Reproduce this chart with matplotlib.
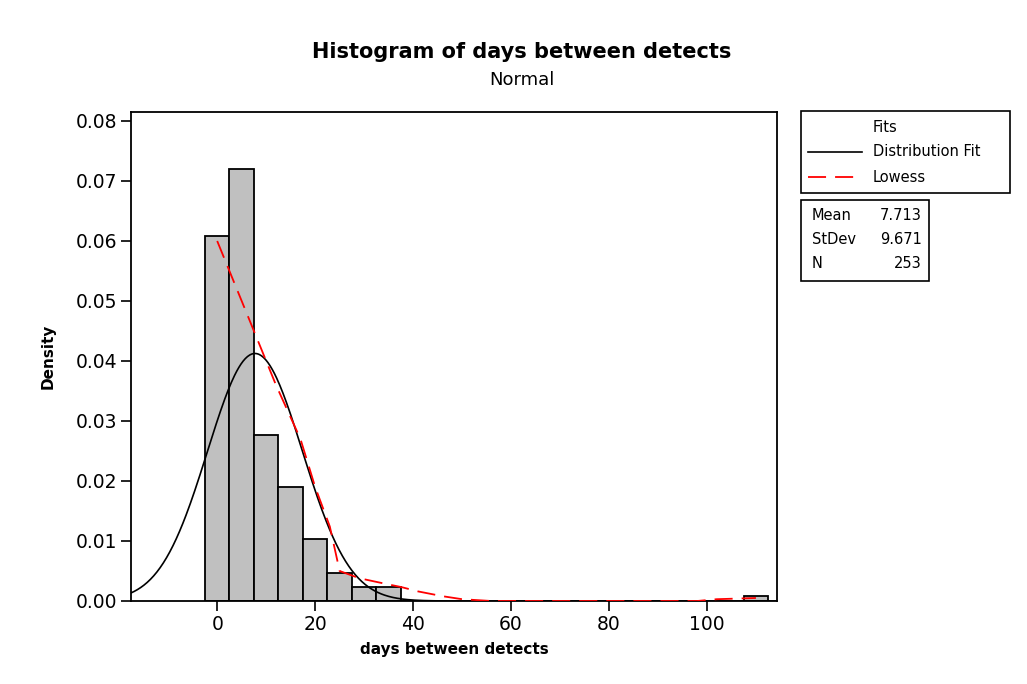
import numpy as np
import matplotlib
matplotlib.use("Agg")
import matplotlib.pyplot as plt
from matplotlib.patches import Rectangle
from matplotlib.lines import Line2D

# histogram data (bin centres, counts per bin of width 5)
bin_centers = [0, 5, 10, 15, 20, 25, 30, 35, 40, 110]
bin_counts = [77, 91, 35, 24, 13, 6, 3, 3, 0, 1]
bin_width = 5

# fit statistics
fit_mean = 7.713
fit_std = 9.671
n_obs = 253

# lowess curve
lowess_x = [0, 4, 8, 12, 17, 20, 23, 25, 29, 33, 37.7, 41, 46, 50, 56, 98, 102, 106, 110]
lowess_y = [0.060, 0.052, 0.044, 0.036, 0.027, 0.019, 0.0124, 0.0050, 0.0038, 0.0031,
            0.0023, 0.0016, 0.0008, 0.0003, 0.0, 0.0, 0.0003, 0.0004, 0.0005]

W, H = 1027, 684
fig = plt.figure(figsize=(W / 100, H / 100), dpi=100)
plt.rcParams['font.family'] = ['DejaVu Sans']

def fx(px):
    return px / W

def fy(py):
    return 1 - py / H

ax = fig.add_axes([fx(131), fy(601), fx(777) - fx(131), fy(112) - fy(601)])

density = np.array(bin_counts) / (n_obs * bin_width)
ax.bar(bin_centers, density, width=bin_width, color="#c0c0c0",
       edgecolor="black", linewidth=1.3, zorder=2)

xs = np.linspace(-17.6, 114.3, 600)
pdf = np.exp(-0.5 * ((xs - fit_mean) / fit_std) ** 2) / (fit_std * np.sqrt(2 * np.pi))
ax.plot(xs, pdf, color="black", linewidth=1.2, zorder=3)
ax.plot(lowess_x, lowess_y, color="red", linewidth=1.3, dashes=(10, 5), zorder=4)

ax.set_xlim(-17.6, 114.3)
ax.set_ylim(0, 0.0815)
ax.set_xticks([0, 20, 40, 60, 80, 100])
ax.set_yticks(np.arange(0, 0.081, 0.01))
ax.yaxis.set_major_formatter(matplotlib.ticker.FormatStrFormatter("%.2f"))
ax.tick_params(direction="out", length=7, width=1.2, labelsize=13.5, pad=3)
for s in ax.spines.values():
    s.set_linewidth(1.3)

ax.set_xlabel("days between detects", fontsize=11, fontweight="bold", labelpad=6)
ax.set_ylabel("Density", fontsize=11, fontweight="bold", labelpad=14)

fig.text(fx(522), fy(52), "Histogram of days between detects", ha="center", va="center",
         fontsize=15, fontweight="bold")
fig.text(fx(522), fy(80), "Normal", ha="center", va="center", fontsize=13)

# legend box
fig.add_artist(Rectangle((fx(801), fy(193)), fx(1010) - fx(801), fy(111) - fy(193),
                         transform=fig.transFigure, fill=False, edgecolor="black", linewidth=1.2))
fig.text(fx(873), fy(128), "Fits", ha="left", va="center", fontsize=10.5)
fig.text(fx(873), fy(152), "Distribution Fit", ha="left", va="center", fontsize=10.5)
fig.text(fx(873), fy(177), "Lowess", ha="left", va="center", fontsize=10.5)
fig.add_artist(Line2D([fx(808), fx(862)], [fy(152), fy(152)], transform=fig.transFigure,
                      color="black", linewidth=1.2))
fig.add_artist(Line2D([fx(808), fx(862)], [fy(177), fy(177)], transform=fig.transFigure,
                      color="red", linewidth=1.3, dashes=(10, 5)))

# stats box
fig.add_artist(Rectangle((fx(801), fy(281)), fx(929) - fx(801), fy(200) - fy(281),
                         transform=fig.transFigure, fill=False, edgecolor="black", linewidth=1.2))
stats = [("Mean", f"{fit_mean:.3f}"), ("StDev", f"{fit_std:.3f}"), ("N", f"{n_obs}")]
for i, (lab, val) in enumerate(stats):
    yy = fy(216 + i * 24)
    fig.text(fx(812), yy, lab, ha="left", va="center", fontsize=10.5)
    fig.text(fx(922), yy, val, ha="right", va="center", fontsize=10.5)

fig.savefig("out.png", dpi=100)
